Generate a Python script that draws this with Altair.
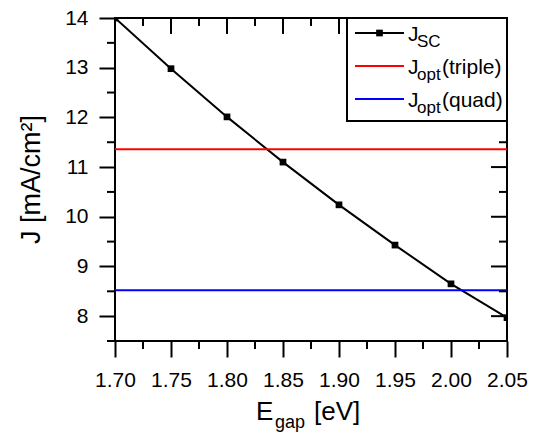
import altair as alt
import pandas as pd

# ---- data ----
E_gap = [1.70, 1.75, 1.80, 1.85, 1.90, 1.95, 2.00, 2.05]
J_sc = [14.00, 12.98, 12.01, 11.10, 10.24, 9.43, 8.65, 7.97]
J_opt_triple = 11.36
J_opt_quad = 8.52

x_major = [1.70, 1.75, 1.80, 1.85, 1.90, 1.95, 2.00, 2.05]
x_minor = [1.725, 1.775, 1.825, 1.875, 1.925, 1.975, 2.025]
y_major = [8, 9, 10, 11, 12, 13, 14]
y_minor = [7.5, 8.5, 9.5, 10.5, 11.5, 12.5, 13.5]

FONT = "Liberation Sans"
W, H = 392, 323

xs = alt.Scale(domain=[1.70, 2.05], nice=False, zero=False)
ys = alt.Scale(domain=[7.5, 14], nice=False, zero=False)

df = pd.DataFrame({"E": E_gap, "J": J_sc})
one = pd.DataFrame({"a": [0]})

x_axis = alt.Axis(values=x_major, format=".2f", tickSize=16, tickWidth=2, tickColor="black",
                  labelPadding=12, labelFontSize=21, labelFont=FONT, labelColor="black",
                  domain=False, grid=False, title=None, labelFlush=False, labelOverlap=False,
                  labelBound=False)
y_axis = alt.Axis(values=y_major, format="d", tickSize=16, tickWidth=2, tickColor="black",
                  labelPadding=11, labelFontSize=21, labelFont=FONT, labelColor="black",
                  domain=False, grid=False, title=None, labelOverlap=False, labelBound=False)

line = alt.Chart(df).mark_line(color="black", strokeWidth=2, clip=True).encode(
    x=alt.X("E:Q", scale=xs, axis=x_axis),
    y=alt.Y("J:Q", scale=ys, axis=y_axis),
)
pts = alt.Chart(df).mark_point(shape="square", filled=True, color="black", size=45,
                               opacity=1, clip=True).encode(
    x=alt.X("E:Q", scale=xs),
    y=alt.Y("J:Q", scale=ys),
)

hl = pd.DataFrame({"J": [J_opt_triple, J_opt_quad], "c": ["#ff0000", "#0000ff"]})
hlines = alt.Chart(hl).mark_rule(strokeWidth=2).encode(
    y=alt.Y("J:Q", scale=ys),
    color=alt.Color("c:N", scale=None, legend=None),
)

def xticks(vals, y0, y1):
    return alt.Chart(pd.DataFrame({"E": vals})).mark_rule(color="black", strokeWidth=2).encode(
        x=alt.X("E:Q", scale=xs), y=alt.value(y0), y2=alt.value(y1))

def yticks(vals, x0, x1):
    return alt.Chart(pd.DataFrame({"J": vals})).mark_rule(color="black", strokeWidth=2).encode(
        y=alt.Y("J:Q", scale=ys), x=alt.value(x0), x2=alt.value(x1))

ticks = [
    xticks(x_minor, H, H + 8),
    yticks(y_minor, -8, 0),
    xticks(x_major[1:-1], 0, 16),
    xticks(x_minor, 0, 8),
    yticks(y_major[:-1], W - 16, W),
    yticks(y_minor[1:], W - 8, W),
]

# ---- legend ----
leg_box = alt.Chart(one).mark_rect(fill="white", stroke="black", strokeWidth=2).encode(
    x=alt.value(232), x2=alt.value(W), y=alt.value(0), y2=alt.value(103))

leg_names = ["SC", "opt", "opt"]
leg_suffix = ["", "(triple)", "(quad)"]
leg_colors = ["black", "#ff0000", "#0000ff"]
leg_layers = [leg_box]
for i, (sub, suf, col) in enumerate(zip(leg_names, leg_suffix, leg_colors)):
    ry = 15 + 33 * i
    base = 23 + 33 * i
    leg_layers.append(alt.Chart(one).mark_rule(color=col, strokeWidth=2).encode(
        x=alt.value(240), x2=alt.value(289), y=alt.value(ry)))
    if i == 0:
        leg_layers.append(alt.Chart(one).mark_point(shape="square", filled=True, color="black",
                                                    size=45, opacity=1).encode(
            x=alt.value(264.5), y=alt.value(ry)))
    leg_layers.append(alt.Chart(one).mark_text(align="left", baseline="alphabetic", font=FONT,
                                               fontSize=21, color="black").encode(
        x=alt.value(293), y=alt.value(base), text=alt.value("J")))
    leg_layers.append(alt.Chart(one).mark_text(align="left", baseline="alphabetic", font=FONT,
                                               fontSize=17, color="black").encode(
        x=alt.value(302), y=alt.value(base + 5.5), text=alt.value(sub)))
    if suf:
        leg_layers.append(alt.Chart(one).mark_text(align="left", baseline="alphabetic", font=FONT,
                                                   fontSize=21, color="black").encode(
            x=alt.value(327), y=alt.value(base), text=alt.value(suf)))

# ---- axis titles ----
titles = [
    alt.Chart(one).mark_text(align="left", baseline="alphabetic", font=FONT, fontSize=26,
                             color="black").encode(x=alt.value(141), y=alt.value(402), text=alt.value("E")),
    alt.Chart(one).mark_text(align="left", baseline="alphabetic", font=FONT, fontSize=18,
                             color="black").encode(x=alt.value(160), y=alt.value(410), text=alt.value("gap")),
    alt.Chart(one).mark_text(align="left", baseline="alphabetic", font=FONT, fontSize=26,
                             color="black").encode(x=alt.value(199), y=alt.value(402), text=alt.value("[eV]")),
    alt.Chart(one).mark_text(align="center", baseline="alphabetic", font=FONT, fontSize=27, angle=270,
                             color="black").encode(x=alt.value(-75), y=alt.value(H / 2), text=alt.value("J [mA/cm²]")),
]

chart = alt.layer(line, hlines, pts, *ticks, *leg_layers, *titles).properties(
    width=W, height=H,
    background="white",
    autosize=alt.AutoSizeParams(type="none"),
    padding={"left": 107, "top": 10, "right": 21, "bottom": 93},
).configure_view(stroke="black", strokeWidth=2)

chart.save("out.html", embed_options={"renderer": "svg", "actions": False})
